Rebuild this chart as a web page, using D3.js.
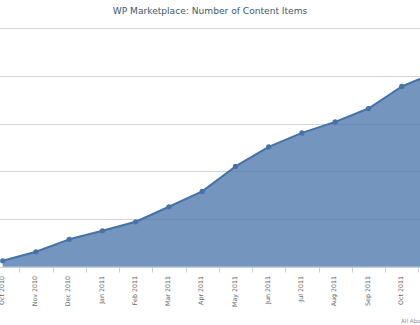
<!DOCTYPE html>
<html>
<head>
<meta charset="utf-8">
<script src="https://cdn.jsdelivr.net/npm/d3@7"></script>
<style>
  html, body { margin: 0; padding: 0; background: #fff; overflow: hidden; }
  svg { display: block; }
</style>
</head>
<body>
<svg id="chart" width="420" height="325"></svg>
<script>
// Data
const categories = ["Oct 2010","Nov 2010","Dec 2010","Jan 2011","Feb 2011","Mar 2011","Apr 2011",
                    "May 2011","Jun 2011","Jul 2011","Aug 2011","Sep 2011","Oct 2011","Nov 2011"];
const contentItems = [125, 314, 574, 754, 942, 1257, 1579, 2103, 2513, 2806, 3037, 3317, 3780, 4070];
const yTicks = [0, 1000, 2000, 3000, 4000, 5000];
const titleText = "WP Marketplace: Number of Content Items";
const creditText = "All About WordPress";

const svg = d3.select("#chart");
const W = 420, H = 325;

// Layout
const step = 33.25;
const firstX = 2.7;
const plotBottom = 266.7, plotTop = 28.3;

const x = d3.scaleBand()
  .domain(categories)
  .range([firstX - step / 2, firstX - step / 2 + step * categories.length])
  .paddingInner(0).paddingOuter(0);
const cx = d => x(d) + x.bandwidth() / 2;

const y = d3.scaleLinear().domain([0, 5000]).range([plotBottom, plotTop]);

// Gridlines
svg.append("g").selectAll("line").data(yTicks.slice(1)).join("line")
  .attr("x1", 0).attr("x2", W)
  .attr("y1", d => Math.round(y(d)) + 0.5).attr("y2", d => Math.round(y(d)) + 0.5)
  .attr("stroke", "#d4d4d4").attr("stroke-width", 1);

// Area
const data = categories.map((c, i) => ({c, v: contentItems[i]}));
const area = d3.area().x(d => cx(d.c)).y0(plotBottom).y1(d => y(d.v));
const line = d3.line().x(d => cx(d.c)).y(d => y(d.v));

svg.append("path").datum(data).attr("d", area)
  .attr("fill", "#4572A7").attr("fill-opacity", 0.75);
svg.append("path").datum(data).attr("d", line)
  .attr("fill", "none").attr("stroke", "#4572A7").attr("stroke-width", 2)
  .attr("stroke-linejoin", "round");
svg.append("g").selectAll("circle").data(data).join("circle")
  .attr("cx", d => cx(d.c)).attr("cy", d => y(d.v)).attr("r", 2.6)
  .attr("fill", "#4572A7");

// X axis
const xAxisG = svg.append("g").attr("transform", `translate(0,${Math.round(plotBottom) + 0.5})`);
xAxisG.append("line").attr("x1", 0).attr("x2", W).attr("y1", 0).attr("y2", 0)
  .attr("stroke", "#C0D0E0").attr("stroke-width", 1);
// tick marks between categories
xAxisG.selectAll("line.tick").data(categories).join("line").attr("class", "tick")
  .attr("x1", d => Math.round(x(d) + x.bandwidth()) + 0.5)
  .attr("x2", d => Math.round(x(d) + x.bandwidth()) + 0.5)
  .attr("y1", 0).attr("y2", 5)
  .attr("stroke", "#C0D0E0").attr("stroke-width", 1);
// labels (only those whose tick falls inside the visible window)
xAxisG.selectAll("text").data(categories.filter(d => cx(d) < W)).join("text")
  .attr("transform", d => `translate(${cx(d) - 1},8.5) rotate(-90)`)
  .attr("text-anchor", "end")
  .attr("dy", "0.35em")
  .attr("font-family", "DejaVu Sans, sans-serif")
  .attr("font-size", "6.3px")
  .attr("fill", "#666")
  .text(d => d);

// Title
svg.append("text").attr("x", 210).attr("y", 13.5)
  .attr("text-anchor", "middle")
  .attr("font-family", "DejaVu Sans, sans-serif")
  .attr("font-size", "9.1px")
  .attr("fill", "#3E576F")
  .text(titleText);

// Credits
svg.append("text").attr("x", 401).attr("y", 322.5)
  .attr("font-family", "DejaVu Sans, sans-serif")
  .attr("font-size", "5.6px")
  .attr("fill", "#909090")
  .text(creditText);
</script>
</body>
</html>
